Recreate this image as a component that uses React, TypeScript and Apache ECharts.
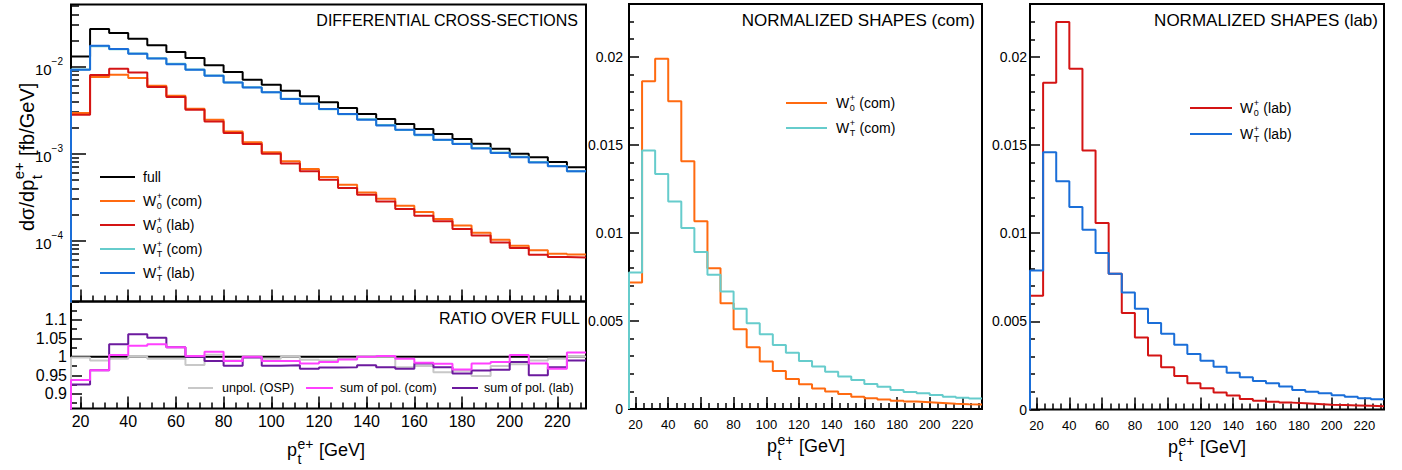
import React, { useEffect, useRef } from 'react';
import * as echarts from 'echarts';

const FONT = "'Liberation Sans', Arial, Helvetica, sans-serif";

// ---------- binning & ticks ----------
const binEdges = [16, 24, 32, 40, 48, 56, 64, 72, 80, 88, 96, 104, 112, 120, 128, 136, 144, 152, 160, 168, 176, 184, 192, 200, 208, 216, 224, 232];
const xMajorTicks = [20, 40, 60, 80, 100, 120, 140, 160, 180, 200, 220];
const xMinorTicks = [20, 25, 30, 35, 40, 45, 50, 55, 60, 65, 70, 75, 80, 85, 90, 95, 100, 105, 110, 115, 120, 125, 130, 135, 140, 145, 150, 155, 160, 165, 170, 175, 180, 185, 190, 195, 200, 205, 210, 215, 220, 225, 230];
const logMajorExponents = [-4, -3, -2];
const logMinorTicks = [2e-5, 3e-5, 4e-5, 5e-5, 6e-5, 7e-5, 8e-5, 9e-5, 2e-4, 3e-4, 4e-4, 5e-4, 6e-4, 7e-4, 8e-4, 9e-4, 2e-3, 3e-3, 4e-3, 5e-3, 6e-3, 7e-3, 8e-3, 9e-3, 2e-2, 3e-2, 4e-2, 5e-2];
const ratioMajorTicks = [0.9, 0.95, 1, 1.05, 1.1];
const ratioMinorTicks = [0.875, 0.925, 0.975, 1.025, 1.075, 1.125];
const normMajorTicks = [0, 0.005, 0.01, 0.015, 0.02];
const normMinorTicks = [0.001, 0.002, 0.003, 0.004, 0.006, 0.007, 0.008, 0.009, 0.011, 0.012, 0.013, 0.014, 0.016, 0.017, 0.018, 0.019, 0.021, 0.022];

// ---------- differential cross-sections [fb/GeV] ----------
const xsecFull = [0.0131, 0.0271, 0.0244, 0.0210, 0.0176, 0.0148, 0.0126, 0.0104, 0.0087, 0.0071, 0.0062, 0.0053, 0.00456, 0.00389, 0.00335, 0.00286, 0.00251, 0.00219, 0.00192, 0.00168, 0.00148, 0.0013, 0.00114, 0.0010, 0.00091, 0.0008, 0.0007];
const xsecW0com = [0.00294, 0.0076, 0.0081, 0.0074, 0.00605, 0.00464, 0.00329, 0.00246, 0.0018, 0.00135, 0.00104, 0.00082, 0.000667, 0.00054, 0.00044, 0.000359, 0.000304, 0.000252, 0.000214, 0.000177, 0.000149, 0.000123, 0.0001026, 0.0000877, 0.0000774, 0.0000709, 0.0000695];
const xsecW0lab = [0.0028, 0.0080, 0.0095, 0.0086, 0.00585, 0.00449, 0.00321, 0.00235, 0.00173, 0.00129, 0.0010, 0.00077, 0.000627, 0.000502, 0.000403, 0.000338, 0.000283, 0.000231, 0.000194, 0.000167, 0.000136, 0.000115, 0.0000955, 0.0000823, 0.000069, 0.0000649, 0.000064];
const xsecWTcom = [0.0093, 0.0172, 0.0159, 0.0142, 0.0125, 0.0108, 0.0093, 0.0079, 0.0066, 0.0058, 0.0051, 0.00428, 0.00374, 0.00325, 0.00284, 0.00248, 0.00213, 0.00187, 0.00163, 0.00144, 0.00130, 0.00116, 0.00103, 0.00092, 0.00080, 0.00072, 0.00063];
const xsecWTlab = [0.00924, 0.0174, 0.0160, 0.0141, 0.0124, 0.0107, 0.00924, 0.00788, 0.0066, 0.00578, 0.00507, 0.00425, 0.00376, 0.00327, 0.00286, 0.00246, 0.00211, 0.00189, 0.00165, 0.00145, 0.00129, 0.00115, 0.00102, 0.00091, 0.00079, 0.000715, 0.000627];

// ---------- ratios over full ----------
const ratioUnpolOSP = [0.998, 0.99, 0.995, 1.0, 0.995, 0.995, 0.978, 1.006, 0.99, 1.0, 0.995, 1.0, 0.992, 0.99, 0.995, 1.0, 1.0, 0.972, 0.975, 0.958, 0.962, 0.948, 0.975, 0.98, 0.99, 0.995, 1.0];
const ratioSumPolCom = [0.937, 0.964, 1.005, 1.030, 1.034, 1.026, 1.002, 1.014, 0.989, 1.0, 0.989, 0.989, 0.982, 0.986, 0.993, 1.0, 1.002, 0.995, 0.984, 0.981, 0.966, 0.982, 0.986, 1.005, 0.982, 0.968, 1.012];
const ratioSumPolLab = [0.925, 0.964, 1.034, 1.061, 1.052, 1.026, 1.0, 0.989, 0.976, 0.998, 0.976, 0.977, 0.968, 0.971, 0.972, 0.977, 0.972, 0.968, 0.982, 0.972, 0.955, 0.963, 0.965, 0.986, 0.950, 0.972, 0.99];

// ---------- normalized shapes ----------
const shapeW0com = [0.00719, 0.01862, 0.01989, 0.01748, 0.01407, 0.01066, 0.0080, 0.00601, 0.00453, 0.00351, 0.0027, 0.00216, 0.0017, 0.0014, 0.00116, 0.00099, 0.00085, 0.0007, 0.00061, 0.00054, 0.00047, 0.00042, 0.00038, 0.00034, 0.0003, 0.00027, 0.00025];
const shapeWTcom = [0.00775, 0.01468, 0.01335, 0.01179, 0.01028, 0.00891, 0.00762, 0.00667, 0.00569, 0.00487, 0.00425, 0.00364, 0.0032, 0.00273, 0.00241, 0.00212, 0.00184, 0.00165, 0.00142, 0.00127, 0.00108, 0.00097, 0.00089, 0.0008, 0.0007, 0.00064, 0.00059];
const shapeW0lab = [0.00645, 0.01853, 0.02198, 0.01933, 0.01469, 0.01058, 0.0077, 0.00547, 0.00408, 0.00306, 0.0024, 0.0019, 0.00149, 0.0012, 0.00096, 0.00079, 0.0006, 0.0005, 0.00044, 0.00039, 0.00035, 0.00031, 0.00027, 0.00025, 0.00023, 0.00021, 0.00019];
const shapeWTlab = [0.00789, 0.01459, 0.01294, 0.01149, 0.0102, 0.00888, 0.0077, 0.00664, 0.00571, 0.0049, 0.00429, 0.00367, 0.00315, 0.00276, 0.00243, 0.00209, 0.00183, 0.00162, 0.00149, 0.0013, 0.00111, 0.00101, 0.00092, 0.00081, 0.00073, 0.00064, 0.00058];

const C = {
  full: '#000000',
  w0com: '#ff6a10',
  w0lab: '#d41414',
  wtcom: '#66cccc',
  wtlab: '#1a6ed8',
  unpol: '#c8c8c8',
  sumCom: '#ff40ff',
  sumLab: '#6c1a9e',
};

const LOG_MIN = 2e-5;
const LOG_MAX = 0.052;

function hist(vals: number[], floor: number | null) {
  const pts: number[][] = [];
  if (floor !== null) pts.push([binEdges[0], floor]);
  vals.forEach((v, i) => pts.push([binEdges[i], v]));
  pts.push([binEdges[vals.length], vals[vals.length - 1]]);
  return pts;
}

function lineSeries(name: string, vals: number[], floor: number | null, color: string, xi: number, yi: number) {
  return {
    name, type: 'line', data: hist(vals, floor), step: 'end', symbol: 'none', showSymbol: false,
    xAxisIndex: xi, yAxisIndex: yi, lineStyle: { color, width: 2 }, itemStyle: { color },
    silent: true, clip: true, emphasis: { disabled: true }, animation: false,
  };
}

let measureCtx: CanvasRenderingContext2D | null = null;
function tw(text: string, size: number) {
  if (!measureCtx) measureCtx = document.createElement('canvas').getContext('2d');
  measureCtx!.font = `${size}px ${FONT}`;
  return measureCtx!.measureText(text).width;
}

function txt(x: number, y: number, text: string, size: number, align = 'left') {
  return { type: 'text', x, y, z: 100, silent: true, style: { text, fontSize: size, fontFamily: FONT, fill: '#000', align, verticalAlign: 'middle' } };
}

function scripted(o: { x: number; y: number; base: string; sup: string; sub: string; rest: string; size: number; small: number; supDy: number; subDy: number; rotation?: number }) {
  const w1 = tw(o.base, o.size);
  const ws = Math.max(tw(o.sup, o.small), tw(o.sub, o.small));
  return {
    type: 'group', x: o.x, y: o.y, rotation: o.rotation || 0, z: 100, silent: true,
    children: [
      txt(0, 0, o.base, o.size),
      txt(w1 + 0.5, o.supDy, o.sup, o.small),
      txt(w1 + 0.5, o.subDy, o.sub, o.small),
      txt(w1 + ws + 1, 0, o.rest, o.size),
    ],
  };
}

function legendLine(x1: number, x2: number, y: number, color: string) {
  return { type: 'line', z: 100, silent: true, shape: { x1, y1: y, x2, y2: y }, style: { stroke: color, lineWidth: 2 } };
}

function wLabel(x: number, y: number, sub: string, rest: string, size = 14) {
  return scripted({ x, y, base: 'W', sup: '+', sub, rest, size, small: 9, supDy: -5, subDy: 5 });
}

function xAxisMain(gridIndex: number, showLabel: boolean, fontSize: number, margin: number) {
  return {
    type: 'value', gridIndex, min: 16, max: 232, position: 'bottom',
    axisLine: { show: false, onZero: false }, splitLine: { show: false },
    axisTick: { show: true, inside: true, length: 12, customValues: xMajorTicks, lineStyle: { color: '#000', width: 1.5 } },
    axisLabel: { show: showLabel, customValues: xMajorTicks, fontSize, fontFamily: FONT, color: '#000', margin },
  };
}
function xAxisMinor(gridIndex: number) {
  return {
    type: 'value', gridIndex, min: 16, max: 232, position: 'bottom',
    axisLine: { show: false, onZero: false }, splitLine: { show: false },
    axisTick: { show: true, inside: true, length: 6, customValues: xMinorTicks, lineStyle: { color: '#000', width: 1.5 } },
    axisLabel: { show: false },
  };
}
function yAxisVal(gridIndex: number, min: number, max: number, ticks: number[], len: number, label: any) {
  return {
    type: 'value', gridIndex, min, max, position: 'left',
    axisLine: { show: false, onZero: false }, splitLine: { show: false },
    axisTick: { show: true, inside: true, length: len, customValues: ticks, lineStyle: { color: '#000', width: 1.5 } },
    axisLabel: label ? { customValues: ticks, fontFamily: FONT, color: '#000', ...label } : { show: false },
  };
}

function buildOption() {
  const gridStyle = { show: true, borderColor: '#000', borderWidth: 2, backgroundColor: 'transparent', containLabel: false };
  const grids = [
    { left: 71, top: 4.4, width: 515, height: 297.1, ...gridStyle },
    { left: 71, top: 301.5, width: 515, height: 107, ...gridStyle },
    { left: 629, top: 4, width: 353, height: 405, ...gridStyle },
    { left: 1030, top: 4, width: 354, height: 405.5, ...gridStyle },
  ];

  const xAxes = [
    xAxisMain(0, false, 16, 5), xAxisMinor(0),
    xAxisMain(1, true, 16, 5), xAxisMinor(1),
    xAxisMain(2, true, 13, 9), xAxisMinor(2),
    xAxisMain(3, true, 13, 9), xAxisMinor(3),
  ];

  const lmin = Math.log10(LOG_MIN);
  const lmax = Math.log10(LOG_MAX);
  const yAxes = [
    // 0: log axis carrying the data of the top-left pad
    { type: 'log', logBase: 10, gridIndex: 0, min: LOG_MIN, max: LOG_MAX, show: false, splitLine: { show: false } },
    // 1: decade ticks / labels (log10 space)
    yAxisVal(0, lmin, lmax, logMajorExponents, 15, {
      margin: 8,
      formatter: (v: number) => `{b|10}{e|${v < 0 ? '\u2212' : ''}${Math.abs(Math.round(v))}}`,
      rich: {
        b: { fontSize: 15, fontFamily: FONT, color: '#000', lineHeight: 20, verticalAlign: 'bottom' },
        e: { fontSize: 10, fontFamily: FONT, color: '#000', lineHeight: 11, verticalAlign: 'top' },
      },
    }),
    // 2: minor log ticks
    yAxisVal(0, lmin, lmax, logMinorTicks.map((v) => Math.log10(v)), 8, null),
    // 3,4: ratio pad
    yAxisVal(1, 0.86, 1.15, ratioMajorTicks, 11, { fontSize: 16, margin: 4 }),
    yAxisVal(1, 0.86, 1.15, ratioMinorTicks, 6, null),
    // 5,6: normalized (com)
    yAxisVal(2, 0, 0.023, normMajorTicks, 10, { fontSize: 14, margin: 6 }),
    yAxisVal(2, 0, 0.023, normMinorTicks, 5, null),
    // 7,8: normalized (lab)
    yAxisVal(3, 0, 0.023, normMajorTicks, 10, { fontSize: 14, margin: 3 }),
    yAxisVal(3, 0, 0.023, normMinorTicks, 5, null),
  ];

  const series = [
    lineSeries('full', xsecFull, 1e-7, C.full, 0, 0),
    lineSeries('W0+ (com)', xsecW0com, 1e-7, C.w0com, 0, 0),
    lineSeries('W0+ (lab)', xsecW0lab, 1e-7, C.w0lab, 0, 0),
    lineSeries('WT+ (com)', xsecWTcom, 1e-7, C.wtcom, 0, 0),
    lineSeries('WT+ (lab)', xsecWTlab, 1e-7, C.wtlab, 0, 0),
    { name: 'unity', type: 'line', data: [[16, 1], [232, 1]], symbol: 'none', xAxisIndex: 2, yAxisIndex: 3, lineStyle: { color: '#000', width: 2 }, silent: true, animation: false },
    lineSeries('unpol. (OSP)', ratioUnpolOSP, 0.5, C.unpol, 2, 3),
    lineSeries('sum of pol. (lab)', ratioSumPolLab, 0.5, C.sumLab, 2, 3),
    lineSeries('sum of pol. (com)', ratioSumPolCom, 0.5, C.sumCom, 2, 3),
    lineSeries('W0+ (com) shape', shapeW0com, 0, C.w0com, 4, 5),
    lineSeries('WT+ (com) shape', shapeWTcom, 0, C.wtcom, 4, 5),
    lineSeries('W0+ (lab) shape', shapeW0lab, 0, C.w0lab, 6, 7),
    lineSeries('WT+ (lab) shape', shapeWTlab, 0, C.wtlab, 6, 7),
  ];

  const graphic: any[] = [
    // pad titles
    txt(578, 20, 'DIFFERENTIAL CROSS-SECTIONS', 16, 'right'),
    txt(580, 318, 'RATIO OVER FULL', 16, 'right'),
    txt(975, 20, 'NORMALIZED SHAPES (com)', 17, 'right'),
    txt(1378, 20, 'NORMALIZED SHAPES (lab)', 17, 'right'),
    // top-left legend
    legendLine(100, 135, 177, C.full), txt(143, 177, 'full', 14),
    legendLine(100, 135, 201, C.w0com), wLabel(143, 201, '0', ' (com)'),
    legendLine(100, 135, 225, C.w0lab), wLabel(143, 225, '0', ' (lab)'),
    legendLine(100, 135, 249, C.wtcom), wLabel(143, 249, 'T', ' (com)'),
    legendLine(100, 135, 273, C.wtlab), wLabel(143, 273, 'T', ' (lab)'),
    // ratio legend
    legendLine(188, 213, 388, C.unpol), txt(222, 388, 'unpol. (OSP)', 12.5),
    legendLine(306, 333, 388, C.sumCom), txt(340, 388, 'sum of pol. (com)', 12.5),
    legendLine(452, 478, 388, C.sumLab), txt(484, 388, 'sum of pol. (lab)', 12.5),
    // middle legend
    legendLine(786, 827, 103, C.w0com), wLabel(836, 103, '0', ' (com)'),
    legendLine(786, 827, 128, C.wtcom), wLabel(836, 128, 'T', ' (com)'),
    // right legend
    legendLine(1190, 1232, 108, C.w0lab), wLabel(1240, 108, '0', ' (lab)'),
    legendLine(1190, 1232, 134, C.wtlab), wLabel(1240, 134, 'T', ' (lab)'),
    // axis titles
    scripted({ x: 287, y: 450, base: 'p', sup: 'e+', sub: 't', rest: ' [GeV]', size: 18, small: 14, supDy: -6, subDy: 9 }),
    scripted({ x: 767, y: 446, base: 'p', sup: 'e+', sub: 't', rest: ' [GeV]', size: 18, small: 14, supDy: -6, subDy: 9 }),
    scripted({ x: 1168, y: 447, base: 'p', sup: 'e+', sub: 't', rest: ' [GeV]', size: 18, small: 14, supDy: -6, subDy: 9 }),
    scripted({ x: 27, y: 231, base: 'd\u03c3/dp', sup: 'e+', sub: 't', rest: ' [fb/GeV]', size: 20, small: 15, supDy: -9, subDy: 9, rotation: Math.PI / 2 }),
  ];

  return {
    animation: false,
    backgroundColor: '#ffffff',
    grid: grids,
    xAxis: xAxes,
    yAxis: yAxes,
    series,
    graphic,
  };
}

export default function App() {
  const ref = useRef<HTMLDivElement>(null);
  useEffect(() => {
    const chart = echarts.init(ref.current!, null, { renderer: 'svg' });
    chart.setOption(buildOption() as any);
    return () => chart.dispose();
  }, []);
  return <div ref={ref} style={{ position: 'fixed', left: 0, top: 0, width: 1402, height: 470, background: '#fff' }} />;
}
